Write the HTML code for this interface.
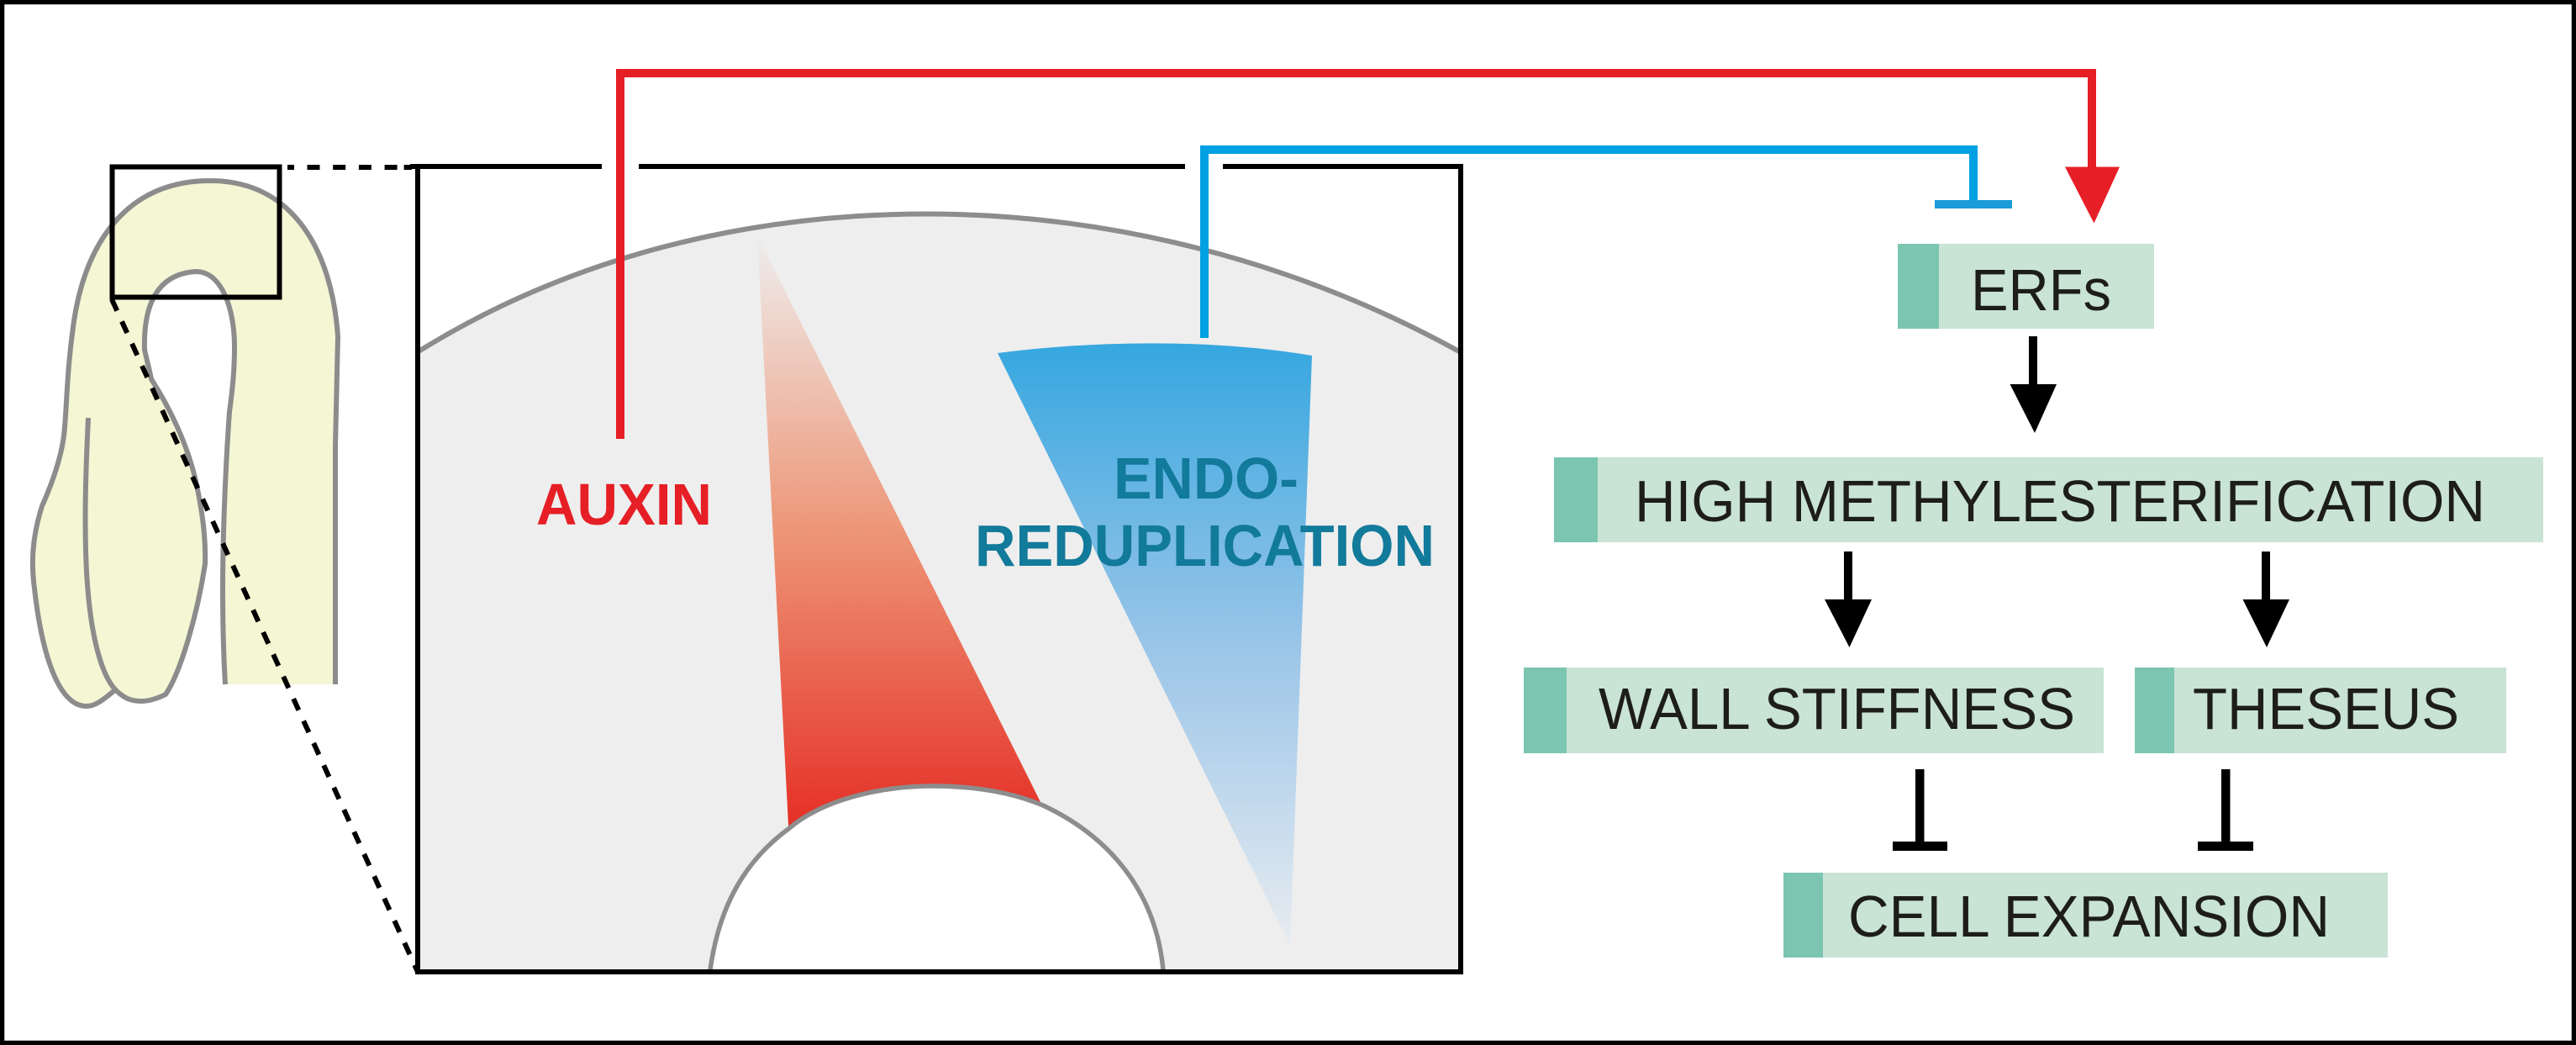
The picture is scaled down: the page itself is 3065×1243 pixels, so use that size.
<!DOCTYPE html>
<html lang="en">
<head>
<meta charset="utf-8">
<title>Diagram</title>
<style>
html,body{margin:0;padding:0;background:#fff;width:3065px;height:1243px;overflow:hidden}
svg{display:block}
text{font-family:"Liberation Sans",Arial,sans-serif}
.b{font-size:70px;font-weight:700}
.t{font-size:70px;fill:#1d1d1b}
</style>
</head>
<body>
<svg width="3065" height="1243" viewBox="0 0 3065 1243" xmlns="http://www.w3.org/2000/svg">
<defs>
<linearGradient id="rg" gradientUnits="userSpaceOnUse" x1="0" y1="280" x2="0" y2="985">
<stop offset="0" stop-color="#eeeeee"/>
<stop offset="0.5" stop-color="#ed9677"/>
<stop offset="1" stop-color="#e52f26"/>
</linearGradient>
<linearGradient id="bg" gradientUnits="userSpaceOnUse" x1="0" y1="410" x2="0" y2="1125">
<stop offset="0" stop-color="#36a7e0"/>
<stop offset="0.5" stop-color="#9ac5e8"/>
<stop offset="1" stop-color="#e8ecf1"/>
</linearGradient>
</defs>
<rect width="3065" height="1243" fill="#fff"/>
<rect x="2.5" y="2.5" width="3060" height="1238" fill="none" stroke="#000" stroke-width="5.5"/>

<!-- plant -->
<path d="M268,814 C266,780 265,740 265,701 C265,640 268,560 273,490 C277,460 279,440 279,412 C279,370 265,323 233,323 C200,325 170,345 172,416 C175,430 178,440 180,451 C200,482 222,525 233,572 C241,610 245,640 244,671 C235,730 215,800 197,826 C185,832 175,834 168,834 C155,834 148,830 140,823 L138,820 C125,830 115,840 103,840 C70,840 50,780 41,700 C37,670 38,640 50,602 C62,575 75,540 77,508 C80,470 80,440 87,389 C100,290 150,215 250,215 C350,215 395,300 402,400 L399,531 L399,814 Z" fill="#f5f6d3"/>
<path d="M399,814 L399,531 L402,400 C395,300 350,215 250,215 C150,215 100,290 87,389 C80,440 80,470 77,508 C75,540 62,575 50,602 C38,640 37,670 41,700 C50,780 70,840 103,840 C115,840 125,830 138,820" fill="none" stroke="#8c8c8c" stroke-width="6"/>
<path d="M268,814 C266,780 265,740 265,701 C265,640 268,560 273,490 C277,460 279,440 279,412 C279,370 265,323 233,323 C200,325 170,345 172,416 C175,430 178,440 180,451 C200,482 222,525 233,572 C241,610 245,640 244,671 C235,730 215,800 197,826 C185,832 175,834 168,834 C155,834 148,830 140,823 C125,810 108,770 103,680 C100,620 102,560 105,497" fill="none" stroke="#8c8c8c" stroke-width="6"/>
<rect x="133.5" y="198.5" width="199" height="155" fill="none" stroke="#000" stroke-width="6"/>
<path d="M342,199 H490" fill="none" stroke="#000" stroke-width="6" stroke-dasharray="8 15.5 15 15.7 15 15.7 15 15.7 15"/>
<path d="M133,356 L497,1156" fill="none" stroke="#000" stroke-width="6" stroke-dasharray="15 14"/>

<!-- big panel -->
<path d="M498,418 C680,305 890,254.5 1102,254.5 C1320,254.5 1540,310 1736,418 V1154 H498 Z" fill="#eeeeee"/>
<path d="M498,418 C680,305 890,254.5 1102,254.5 C1320,254.5 1540,310 1736,418" fill="none" stroke="#8d8d8d" stroke-width="6"/>
<path d="M901,280 L938.5,990 L1100,950 L1241,960 Z" fill="url(#rg)"/>
<path d="M1187,420 C1310,404 1450,404 1561,423 L1535,1125 Z" fill="url(#bg)"/>
<path d="M845,1154 C855,1080 885,1025 938,986 C980,950 1050,935 1110,935 C1160,935 1205,943 1241,958 C1320,995 1375,1060 1384,1154 Z" fill="#fff"/>
<path d="M845,1154 C855,1080 885,1025 938,986 C980,950 1050,935 1110,935 C1160,935 1205,943 1241,958 C1320,995 1375,1060 1384,1154" fill="none" stroke="#8d8d8d" stroke-width="5.5"/>
<path d="M497,198 V1156 H1738 V198" fill="none" stroke="#000" stroke-width="6"/>
<path d="M488,198 H716 M760,198 H1410 M1455,198 H1741" fill="none" stroke="#000" stroke-width="6"/>

<!-- connectors -->
<path d="M738,522 V87 H2489 V205" fill="none" stroke="#e61e25" stroke-width="10"/>
<path d="M2457,198.5 H2522 L2491.5,265.5 Z" fill="#e61e25"/>
<path d="M1433,402 V178 H2348 V240" fill="none" stroke="#00a0e3" stroke-width="10"/>
<rect x="2302" y="238" width="92" height="10" fill="#1b9cd8"/>

<text class="b" x="638" y="624" fill="#e61e25" textLength="209" lengthAdjust="spacingAndGlyphs">AUXIN</text>
<text class="b" x="1325" y="593" fill="#127a9a" textLength="220" lengthAdjust="spacingAndGlyphs">ENDO-</text>
<text class="b" x="1160" y="673" fill="#127a9a" textLength="547" lengthAdjust="spacingAndGlyphs">REDUPLICATION</text>

<!-- boxes -->
<rect x="2258" y="290" width="305" height="101" fill="#c9e3d5"/>
<rect x="2258" y="290" width="49" height="101" fill="#7cc5b0"/>
<text class="t" x="2345" y="369" textLength="167" lengthAdjust="spacingAndGlyphs">ERFs</text>

<rect x="1849" y="544" width="1177" height="101" fill="#c9e3d5"/>
<rect x="1849" y="544" width="52" height="101" fill="#7cc5b0"/>
<text class="t" x="1945" y="620" textLength="1012" lengthAdjust="spacingAndGlyphs">HIGH METHYLESTERIFICATION</text>

<rect x="1813" y="794" width="690" height="102" fill="#c9e3d5"/>
<rect x="1813" y="794" width="51" height="102" fill="#7cc5b0"/>
<text class="t" x="1902" y="867" textLength="567" lengthAdjust="spacingAndGlyphs">WALL STIFFNESS</text>

<rect x="2540" y="794" width="442" height="102" fill="#c9e3d5"/>
<rect x="2540" y="794" width="47" height="102" fill="#7cc5b0"/>
<text class="t" x="2609" y="867" textLength="317" lengthAdjust="spacingAndGlyphs">THESEUS</text>

<rect x="2122" y="1038" width="719" height="101" fill="#c9e3d5"/>
<rect x="2122" y="1038" width="47" height="101" fill="#7cc5b0"/>
<text class="t" x="2199" y="1114" textLength="573" lengthAdjust="spacingAndGlyphs">CELL EXPANSION</text>

<!-- black arrows -->
<rect x="2414" y="400" width="10" height="60" fill="#000"/>
<path d="M2391.5,457 H2447 L2421,515 Z" fill="#000"/>
<rect x="2194" y="656" width="10" height="60" fill="#000"/>
<path d="M2171,713 H2227 L2200.5,770 Z" fill="#000"/>
<rect x="2691" y="656" width="10" height="60" fill="#000"/>
<path d="M2668.5,713 H2724 L2697,770 Z" fill="#000"/>

<!-- T-bars -->
<rect x="2279" y="915" width="10.5" height="90" fill="#000"/>
<rect x="2252" y="1001" width="65" height="11" fill="#000"/>
<rect x="2643" y="915" width="10.5" height="90" fill="#000"/>
<rect x="2615" y="1001" width="66" height="11" fill="#000"/>
</svg>
</body>
</html>
